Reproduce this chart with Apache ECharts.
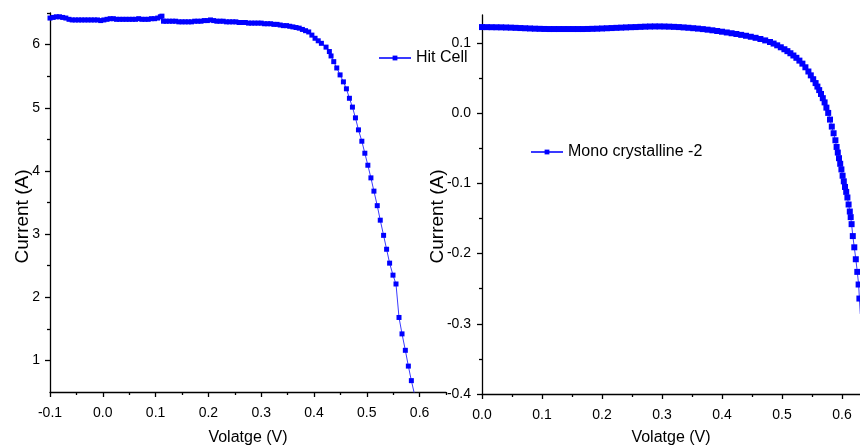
<!DOCTYPE html>
<html>
<head>
<meta charset="utf-8">
<script src="https://cdn.jsdelivr.net/npm/echarts@6/dist/echarts.min.js"></script>
<style>
  html, body { margin: 0; padding: 0; background: #fff; }
  #chart { width: 860px; height: 446px; }
</style>
</head>
<body>
<div id="chart"></div>
<script>
// Hit Cell : tension (V) / courant (A)
const hitV = [
  -0.100, -0.094, -0.088, -0.082, -0.076, -0.070, -0.064, -0.058, -0.052, -0.046,
  -0.040, -0.034, -0.028, -0.022, -0.016, -0.010, -0.004, 0.002, 0.008, 0.014,
  0.020, 0.026, 0.032, 0.038, 0.044, 0.050, 0.056, 0.062, 0.068, 0.074,
  0.080, 0.086, 0.092, 0.098, 0.104, 0.109, 0.112, 0.115, 0.120, 0.126,
  0.132, 0.138, 0.144, 0.150, 0.156, 0.162, 0.168, 0.174, 0.180, 0.186,
  0.192, 0.198, 0.204, 0.210, 0.216, 0.222, 0.228, 0.234, 0.240, 0.246,
  0.252, 0.258, 0.264, 0.270, 0.276, 0.282, 0.288, 0.294, 0.300, 0.306,
  0.312, 0.318, 0.324, 0.330, 0.336, 0.342, 0.348, 0.354, 0.360, 0.366,
  0.372, 0.378, 0.384, 0.390, 0.396, 0.402, 0.408, 0.414,
  0.4228, 0.4291, 0.4323, 0.4374, 0.4431, 0.4494, 0.4557, 0.4614, 0.4671, 0.4728,
  0.4785, 0.4842, 0.4906, 0.4963, 0.5020, 0.5078, 0.5135, 0.5198, 0.5255, 0.5318,
  0.5375, 0.5432, 0.5496, 0.5553, 0.5610, 0.5667, 0.5730, 0.5787, 0.5844, 0.5910
];
const hitI = [
  6.42, 6.43, 6.44, 6.44, 6.43, 6.42, 6.40, 6.39, 6.39, 6.39,
  6.39, 6.39, 6.39, 6.39, 6.39, 6.39, 6.38, 6.39, 6.40, 6.41,
  6.41, 6.40, 6.40, 6.40, 6.40, 6.40, 6.40, 6.40, 6.41, 6.40,
  6.40, 6.40, 6.41, 6.41, 6.42, 6.44, 6.45, 6.37, 6.37, 6.37,
  6.37, 6.37, 6.36, 6.36, 6.36, 6.36, 6.36, 6.37, 6.37, 6.37,
  6.38, 6.38, 6.39, 6.38, 6.37, 6.37, 6.37, 6.36, 6.36, 6.36,
  6.36, 6.35, 6.35, 6.35, 6.34, 6.34, 6.34, 6.34, 6.34, 6.33,
  6.33, 6.33, 6.32, 6.32, 6.31, 6.30, 6.30, 6.29, 6.28, 6.27,
  6.26, 6.24, 6.22, 6.20, 6.15, 6.10, 6.06, 6.02,
  5.96, 5.89, 5.82, 5.73, 5.63, 5.52, 5.41, 5.30, 5.15, 5.01,
  4.84, 4.65, 4.47, 4.28, 4.09, 3.89, 3.68, 3.45, 3.22, 2.98,
  2.76, 2.54, 2.35, 2.21, 1.68, 1.42, 1.16, 0.91, 0.68, 0.44
];

// Mono crystalline -2 : tension (V) / courant (A)
const monoV = [
  0.000, 0.008, 0.016, 0.024, 0.032, 0.040, 0.048, 0.056, 0.064, 0.072,
  0.080, 0.088, 0.096, 0.104, 0.112, 0.120, 0.128, 0.136, 0.144, 0.152,
  0.160, 0.168, 0.176, 0.184, 0.192, 0.200, 0.208, 0.216, 0.224, 0.232,
  0.240, 0.248, 0.256, 0.264, 0.272, 0.280, 0.288, 0.296, 0.304, 0.312,
  0.320, 0.328, 0.336, 0.344, 0.352, 0.360, 0.368, 0.376, 0.384, 0.392,
  0.400, 0.408, 0.416, 0.424, 0.432, 0.440, 0.448, 0.456, 0.464, 0.472,
  0.480, 0.486, 0.492, 0.498, 0.504, 0.509, 0.514, 0.519, 0.524, 0.529,
  0.534, 0.539, 0.544, 0.548, 0.552, 0.556, 0.559, 0.562, 0.565, 0.568,
  0.571, 0.574, 0.577, 0.580, 0.583, 0.586, 0.589, 0.591, 0.593, 0.595,
  0.597, 0.599, 0.601, 0.603, 0.605, 0.607, 0.609, 0.611, 0.613, 0.6145,
  0.616, 0.618, 0.6205, 0.623, 0.6255, 0.6277, 0.629, 0.6305
];
const monoI = [
  0.1228, 0.1227, 0.1226, 0.1225, 0.1224, 0.1222, 0.1220, 0.1217, 0.1214, 0.1211,
  0.1208, 0.1205, 0.1203, 0.1201, 0.1200, 0.1200, 0.1200, 0.1200, 0.1200, 0.1200,
  0.1200, 0.1200, 0.1201, 0.1203, 0.1205, 0.1208, 0.1211, 0.1214, 0.1217, 0.1220,
  0.1223, 0.1226, 0.1228, 0.1231, 0.1234, 0.1236, 0.1237, 0.1237, 0.1236, 0.1234,
  0.1231, 0.1228, 0.1223, 0.1218, 0.1212, 0.1206, 0.1199, 0.1191, 0.1182, 0.1172,
  0.1162, 0.1151, 0.1140, 0.1129, 0.1117, 0.1104, 0.1090, 0.1075, 0.1058, 0.1038,
  0.1015, 0.0993, 0.0968, 0.0940, 0.0912, 0.0885, 0.0855, 0.0823, 0.0790, 0.0750,
  0.0707, 0.0655, 0.0595, 0.0540, 0.0485, 0.0430, 0.0380, 0.0330, 0.0275, 0.0215,
  0.0155, 0.0080, 0.0005, -0.0090, -0.0190, -0.0285, -0.0385, -0.0480, -0.0560, -0.0640,
  -0.0720, -0.0800, -0.0890, -0.0970, -0.1050, -0.1120, -0.1200, -0.1300, -0.1400, -0.1480,
  -0.1580, -0.1750, -0.1910, -0.2080, -0.2260, -0.2440, -0.2640, -0.2860
];

// graduations
const leftXTicks = [-0.1, 0.0, 0.1, 0.2, 0.3, 0.4, 0.5, 0.6];
const leftXMinor = [-0.05, 0.05, 0.15, 0.25, 0.35, 0.45, 0.55, 0.65];
const leftYTicks = [1, 2, 3, 4, 5, 6];
const leftYMinor = [1.5, 2.5, 3.5, 4.5, 5.5, 6.5];
const rightXTicks = [0.0, 0.1, 0.2, 0.3, 0.4, 0.5, 0.6];
const rightXMinor = [0.05, 0.15, 0.25, 0.35, 0.45, 0.55];
const rightYTicks = [-0.4, -0.3, -0.2, -0.1, 0.0, 0.1];
const rightYMinor = [-0.35, -0.25, -0.15, -0.05, 0.05];

const font = "'Liberation Sans', Arial, sans-serif";
const axisStyle = { color: '#000', width: 1.3 };

function mainAxis(gridIndex, min, max, ticks, fmt, margin, nameOpts) {
  return Object.assign({
    type: 'value', gridIndex, min, max,
    nameMoveOverlap: false,
    axisLine: { show: true, onZero: false, lineStyle: axisStyle },
    axisTick: { show: true, customValues: ticks, length: 5, lineStyle: axisStyle },
    axisLabel: {
      customValues: ticks, formatter: fmt, color: '#000',
      fontFamily: font, fontSize: 14, margin
    },
    splitLine: { show: false }
  }, nameOpts);
}

function minorAxis(gridIndex, min, max, ticks, position) {
  return {
    type: 'value', gridIndex, min, max, position,
    axisLine: { show: false, onZero: false },
    axisTick: { show: true, customValues: ticks, length: 3, lineStyle: axisStyle },
    axisLabel: { show: false },
    splitLine: { show: false }
  };
}

const chart = echarts.init(document.getElementById('chart'));

const options = {
  animation: false,
  grid: [
    { left: 50, top: 13, width: 396, height: 379, outerBoundsMode: 'none', containLabel: false },
    { left: 482, top: 15, width: 378, height: 379, outerBoundsMode: 'none', containLabel: false }
  ],
  legend: [
    {
      data: ['Hit Cell'], left: 378, top: 50, padding: 0,
      itemWidth: 32, itemHeight: 6,
      textStyle: { fontFamily: font, fontSize: 16, color: '#000' }
    },
    {
      data: ['Mono crystalline -2'], left: 530, top: 144, padding: 0,
      itemWidth: 32, itemHeight: 6,
      textStyle: { fontFamily: font, fontSize: 16, color: '#000' }
    }
  ],
  xAxis: [
    mainAxis(0, -0.1, 0.65, leftXTicks, v => v.toFixed(1), 14, {
      position: 'bottom', name: 'Volatge (V)', nameLocation: 'middle', nameGap: 38,
      nameTextStyle: { fontFamily: font, fontSize: 16, color: '#000' }
    }),
    minorAxis(0, -0.1, 0.65, leftXMinor, 'bottom'),
    mainAxis(1, 0, 0.63, rightXTicks, v => v.toFixed(1), 14, {
      position: 'bottom', name: 'Volatge (V)', nameLocation: 'middle', nameGap: 36,
      nameTextStyle: { fontFamily: font, fontSize: 16, color: '#000' }
    }),
    minorAxis(1, 0, 0.63, rightXMinor, 'bottom')
  ],
  yAxis: [
    mainAxis(0, 0.5, 6.5, leftYTicks, v => String(v), 10, {
      position: 'left', name: 'Current (A)', nameLocation: 'middle', nameGap: 18,
      nameTextStyle: { fontFamily: font, fontSize: 19, color: '#000', padding: [0, 28, 0, 0] }
    }),
    minorAxis(0, 0.5, 6.5, leftYMinor, 'left'),
    mainAxis(1, -0.4, 0.14, rightYTicks, v => v.toFixed(1), 11, {
      position: 'left', name: 'Current (A)', nameLocation: 'middle', nameGap: 35,
      nameTextStyle: { fontFamily: font, fontSize: 19, color: '#000', padding: [0, 24, 0, 0] }
    }),
    minorAxis(1, -0.4, 0.14, rightYMinor, 'left')
  ],
  series: [
    {
      name: 'Hit Cell', type: 'line', xAxisIndex: 0, yAxisIndex: 0,
      data: hitV.map((v, i) => [v, hitI[i]]),
      symbol: 'rect', symbolSize: 5, showAllSymbol: true,
      itemStyle: { color: '#0000ff' },
      lineStyle: { color: '#3a3aff', width: 1 },
      clip: true
    },
    {
      name: 'Mono crystalline -2', type: 'line', xAxisIndex: 2, yAxisIndex: 2,
      data: monoV.map((v, i) => [v, monoI[i]]),
      symbol: 'rect', symbolSize: 6, showAllSymbol: true,
      itemStyle: { color: '#0000ff' },
      lineStyle: { color: '#3a3aff', width: 1 },
      clip: true
    }
  ]
};

chart.setOption(options);

window.addEventListener('resize', () => {
  chart.resize();
});
</script>
</body>
</html>
